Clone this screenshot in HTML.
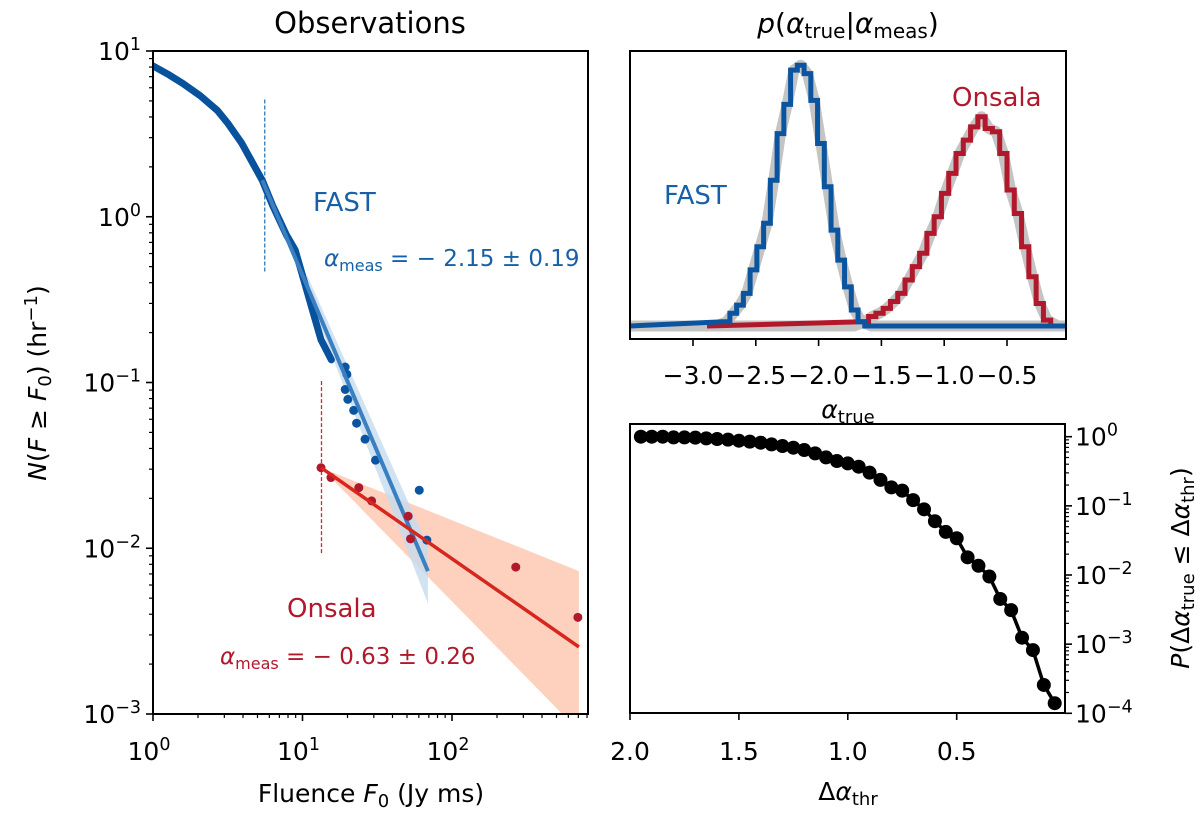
<!DOCTYPE html>
<html><head><meta charset="utf-8"><style>
html,body{margin:0;padding:0;background:#fff;}
svg{display:block;font-family:"DejaVu Sans","Liberation Sans",sans-serif;}
</style></head><body>
<svg id="fig" width="1200" height="822" viewBox="0 0 1200 822" xmlns="http://www.w3.org/2000/svg">
<g id="left"></g>
<g id="tr"></g>
<g id="br"></g>
</svg>
<script>
// ---- Left panel data ----
const fastCurveX = [1,1.28,1.58,2.07,2.70,3.16,3.92,4.59,5.38,6.31,7.82,8.93,10.2,11.9,13.3,15.6];
const fastCurveY = [8.13,7.18,6.38,5.37,4.37,3.67,2.78,2.15,1.66,1.17,0.774,0.63,0.416,0.256,0.181,0.137];
const fastDotsX = [19.3,19.8,19.3,20.1,22.0,23.0,26.2,30.8,60.4,67.9];
const fastDotsY = [0.124,0.112,0.0908,0.0791,0.0679,0.0568,0.0455,0.034,0.0224,0.0112];
const fastFitRange = [5.38,69];
const fastFitY = [1.66,0.00728];
const fastBandX = [10.7,69];
const fastBandHi = [0.447,0.0103];
const fastBandLo = [0.355,0.00465];
const onsDotsX = [13.3,15.5,23.8,29.0,50.9,52.8,267,695];
const onsDotsY = [0.0306,0.0267,0.0232,0.0193,0.0156,0.0114,0.0077,0.00383];
const onsFitX = [13.3,706];
const onsFitY = [0.0306,0.00254];
const onsBandX = [13.3,706];
const onsBandHi = [0.0306,0.00728];
const onsBandLo = [0.0306,0.00079];
const fastThr = [5.59,5.1,0.46];
const onsThr = [13.4,0.102,0.00927];
// ---- Top-right histogram data ----
const fastBinStart = -2.76, fastBinW = 0.0537;
const fastHist = [0.13,0.39,0.64,1.0,1.72,2.43,3.15,4.47,5.9,6.8,7.85,8.0,7.74,6.92,5.6,4.27,2.94,2.02,1.2,0.49,0.13];
const onsBinStart = -1.66, onsBinW = 0.058;
const onsHist = [0.13,0.29,0.39,0.54,0.75,1.0,1.41,1.82,2.23,2.84,3.35,4.07,4.68,5.29,5.7,6.11,6.42,6.06,5.96,5.29,4.17,3.45,2.43,1.51,0.69,0.18];
const trTicks = [-3.0,-2.5,-2.0,-1.5,-1.0,-0.5];
// ---- Bottom-right data ----
const thrX = [1.95,1.90,1.85,1.80,1.75,1.70,1.65,1.60,1.55,1.50,1.45,1.40,1.35,1.30,1.25,1.20,1.15,1.10,1.05,1.00,0.95,0.90,0.85,0.80,0.75,0.70,0.65,0.60,0.55,0.50,0.45,0.40,0.35,0.30,0.25,0.20,0.15,0.10,0.05];
const probY = [1,1,1,0.977,0.977,0.968,0.946,0.925,0.906,0.875,0.847,0.819,0.774,0.733,0.693,0.641,0.574,0.502,0.445,0.411,0.368,0.302,0.237,0.185,0.166,0.121,0.089,0.060,0.042,0.034,0.018,0.0136,0.0095,0.0045,0.0031,0.00124,0.00082,0.000257,0.00014];
const brXTicks = [2.0,1.5,1.0,0.5];
const brYTicks = [0,-1,-2,-3,-4];

const NS="http://www.w3.org/2000/svg";
const FS=25;
function mk(parent,tag,attrs,name,txt){
  const e=document.createElementNS(NS,tag);
  for(const k in attrs) e.setAttribute(k,attrs[k]);
  
  
  if(txt!==undefined) e.textContent=txt;
  parent.appendChild(e); return e;
}
function sup(parent,x,y,base,exp,anchor,name,fs){
  fs=fs||FS;
  const t=mk(parent,'text',{x:x,y:y,'text-anchor':anchor,'font-size':fs,fill:'#000'},name);
  const a=document.createElementNS(NS,'tspan'); a.textContent=base; t.appendChild(a);
  const b=document.createElementNS(NS,'tspan'); b.setAttribute('dy',-10); b.setAttribute('font-size',fs*0.7); b.textContent=exp; t.appendChild(b);
  return t;
}
const L10=Math.log10;
// ===== LEFT =====
const Lg=document.getElementById('left');
const LX0=153,LX1=588,LY0=51,LY1=714;
const lxs=v=>LX0+(L10(v)-0)*149.5;
const lys=v=>LY0+(1-L10(v))*165.75;
mk(Lg,'defs',{},'defs').innerHTML='<clipPath id="lc"><rect x="153" y="51" width="435" height="663"/></clipPath><clipPath id="tc"><rect x="630" y="51" width="436" height="288"/></clipPath>';
const Lp=mk(Lg,'g',{'clip-path':'url(#lc)'},'plot-area');
mk(Lp,'polygon',{points:[[lxs(onsBandX[0]),lys(onsBandHi[0])],[lxs(onsBandX[1]),lys(onsBandHi[1])],[lxs(onsBandX[1]),lys(onsBandLo[1])],[lxs(onsBandX[0]),lys(onsBandLo[0])]].map(p=>p.join(',')).join(' '),fill:'#fcc5ae',opacity:0.8},'onsala-fit-band');
mk(Lp,'polygon',{points:[[lxs(fastBandX[0]),lys(fastBandHi[0])],[lxs(fastBandX[1]),lys(fastBandHi[1])],[lxs(fastBandX[1]),lys(fastBandLo[1])],[lxs(fastBandX[0]),lys(fastBandLo[0])]].map(p=>p.join(',')).join(' '),fill:'#c6dbef',opacity:0.8},'fast-fit-band');
mk(Lp,'line',{x1:lxs(fastThr[0]),x2:lxs(fastThr[0]),y1:lys(fastThr[1]),y2:lys(fastThr[2]),stroke:'#2b7bba','stroke-width':1.3,'stroke-dasharray':'4,2'},'fast-threshold-line');
mk(Lp,'line',{x1:lxs(onsThr[0]),x2:lxs(onsThr[0]),y1:lys(onsThr[1]),y2:lys(onsThr[2]),stroke:'#d62728','stroke-width':1.3,'stroke-dasharray':'4,2'},'onsala-threshold-line');
mk(Lp,'polyline',{points:fastCurveX.map((x,i)=>lxs(x)+','+lys(fastCurveY[i])).join(' '),fill:'none',stroke:'#08519c','stroke-width':7,'stroke-linecap':'round','stroke-linejoin':'round'},'fast-cumulative-curve');
fastDotsX.forEach((x,i)=>{mk(Lp,'circle',{cx:lxs(x),cy:lys(fastDotsY[i]),r:4.5,fill:'#0b55a0'},'fast-point');});
mk(Lp,'line',{x1:lxs(fastFitRange[0]),y1:lys(fastFitY[0]),x2:lxs(fastFitRange[1]),y2:lys(fastFitY[1]),stroke:'#3a80c0','stroke-width':4},'fast-fit-line');
onsDotsX.forEach((x,i)=>{mk(Lp,'circle',{cx:lxs(x),cy:lys(onsDotsY[i]),r:4.5,fill:'#b2182b'},'onsala-point');});
mk(Lp,'line',{x1:lxs(onsFitX[0]),y1:lys(onsFitY[0]),x2:lxs(onsFitX[1]),y2:lys(onsFitY[1]),stroke:'#d7261e','stroke-width':3.5},'onsala-fit-line');
mk(Lg,'rect',{x:LX0,y:LY0,width:LX1-LX0,height:LY1-LY0,fill:'none',stroke:'#000','stroke-width':2},'left-axes-frame');
for(let d=0; d<=2; d++){
  mk(Lg,'line',{x1:lxs(10**d),x2:lxs(10**d),y1:LY1,y2:LY1+7,stroke:'#000','stroke-width':1.6},'x-tick');
  sup(Lg,lxs(10**d)-4,760,'10',String(d),'middle','x-tick-label');
  for(let m=2;m<=9;m++){const v=m*10**d; if(lxs(v)<LX1) mk(Lg,'line',{x1:lxs(v),x2:lxs(v),y1:LY1,y2:LY1+4,stroke:'#000','stroke-width':1.2},'x-minor-tick');}
}
for(let d=-3; d<=1; d++){
  mk(Lg,'line',{x1:LX0-7,x2:LX0,y1:lys(10**d),y2:lys(10**d),stroke:'#000','stroke-width':1.6},'y-tick');
  sup(Lg,LX0-12,lys(10**d)+9,'10',String(d).replace('-','−'),'end','y-tick-label');
  if(d<1) for(let m=2;m<=9;m++){const v=m*10**d; mk(Lg,'line',{x1:LX0-4,x2:LX0,y1:lys(v),y2:lys(v),stroke:'#000','stroke-width':1.2},'y-minor-tick');}
}
mk(Lg,'text',{x:370,y:33,'text-anchor':'middle','font-size':29},'left-title','Observations');
const xl=mk(Lg,'text',{x:371,y:802,'text-anchor':'middle','font-size':FS},'x-axis-title');
xl.innerHTML='Fluence <tspan font-style="italic">F</tspan><tspan font-size="18" dy="5">0</tspan><tspan dy="-5"> (Jy ms)</tspan>';
const yl=mk(Lg,'text',{x:0,y:0,'text-anchor':'middle','font-size':FS,transform:'translate(46,383) rotate(-90)'},'y-axis-title');
yl.innerHTML='<tspan font-style="italic">N</tspan>(<tspan font-style="italic">F</tspan> ≥ <tspan font-style="italic">F</tspan><tspan font-size="18" dy="5">0</tspan><tspan dy="-5">) (hr</tspan><tspan font-size="18" dy="-9">−1</tspan><tspan dy="9">)</tspan>';
mk(Lg,'text',{x:313,y:211,'font-size':26,fill:'#1760a8'},'fast-label','FAST');
const t2=mk(Lg,'text',{x:324,y:266,'font-size':23,fill:'#1760a8'},'fast-alpha-label');
t2.innerHTML='<tspan font-style="italic">α</tspan><tspan font-size="16" dy="5">meas</tspan><tspan dy="-5"> = − 2.15 ± 0.19</tspan>';
mk(Lg,'text',{x:287,y:617,'font-size':26,fill:'#b2182b'},'onsala-label','Onsala');
const t4=mk(Lg,'text',{x:220,y:664,'font-size':23,fill:'#b2182b'},'onsala-alpha-label');
t4.innerHTML='<tspan font-style="italic">α</tspan><tspan font-size="16" dy="5">meas</tspan><tspan dy="-5"> = − 0.63 ± 0.26</tspan>';

// ===== TOP RIGHT =====
const Tg=document.getElementById('tr');
const TX0=630,TX1=1066,TY0=51,TY1=339;
const txs=a=>693+(a+3.0)*125.6;
const tys=v=>326-v*32.6;
const Tp=mk(Tg,'g',{'clip-path':'url(#tc)'},'hist-area');
function stepPts(start,w,h,x0){
  const pts=[[x0,tys(0)]];
  h.forEach((v,i)=>{pts.push([txs(start+i*w),tys(v)]);pts.push([txs(start+(i+1)*w),tys(v)]);});
  pts.push([txs(start+h.length*w),tys(0)]);pts.push([TX1,tys(0)]);
  return pts.map(p=>p.join(',')).join(' ');
}
function smoothPts(start,w,h){
  const pts=[[TX0,tys(0)],[txs(start-w),tys(0)]];
  h.forEach((v,i)=>pts.push([txs(start+(i+0.5)*w),tys(v)]));
  pts.push([txs(start+(h.length+1)*w),tys(0)]);pts.push([TX1,tys(0)]);
  return pts.map(p=>p.join(',')).join(' ');
}
mk(Tp,'polyline',{points:smoothPts(onsBinStart,onsBinW,onsHist),fill:'none',stroke:'#c4c4c4','stroke-width':11,'stroke-linejoin':'round'},'onsala-smooth');
mk(Tp,'polyline',{points:smoothPts(fastBinStart,fastBinW,fastHist),fill:'none',stroke:'#c4c4c4','stroke-width':11,'stroke-linejoin':'round'},'fast-smooth');
mk(Tp,'polyline',{points:stepPts(onsBinStart,onsBinW,onsHist,707),fill:'none',stroke:'#b2182b','stroke-width':5},'onsala-histogram');
mk(Tp,'polyline',{points:stepPts(fastBinStart,fastBinW,fastHist,TX0),fill:'none',stroke:'#0b55a0','stroke-width':5},'fast-histogram');
mk(Tg,'rect',{x:TX0,y:TY0,width:TX1-TX0,height:TY1-TY0,fill:'none',stroke:'#000','stroke-width':2},'posterior-axes-frame');
trTicks.forEach(t=>{
  mk(Tg,'line',{x1:txs(t),x2:txs(t),y1:TY1,y2:TY1+7,stroke:'#000','stroke-width':1.6},'x-tick');
  mk(Tg,'text',{x:txs(t),y:384,'text-anchor':'middle','font-size':FS},'x-tick-label',t.toFixed(1).replace('-','−'));
});
const tt=mk(Tg,'text',{x:848,y:33,'text-anchor':'middle','font-size':28},'posterior-title');
tt.innerHTML='<tspan font-style="italic">p</tspan>(<tspan font-style="italic">α</tspan><tspan font-size="20" dy="5">true</tspan><tspan dy="-5">|</tspan><tspan font-style="italic">α</tspan><tspan font-size="20" dy="5">meas</tspan><tspan dy="-5">)</tspan>';
const ta=mk(Tg,'text',{x:848,y:418,'text-anchor':'middle','font-size':FS},'posterior-x-title');
ta.innerHTML='<tspan font-style="italic">α</tspan><tspan font-size="18" dy="5">true</tspan>';
mk(Tg,'text',{x:664,y:204,'font-size':26,fill:'#1760a8'},'fast-hist-label','FAST');
mk(Tg,'text',{x:952,y:106,'font-size':26,fill:'#b2182b'},'onsala-hist-label','Onsala');

// ===== BOTTOM RIGHT =====
const Bg=document.getElementById('br');
const BX0=630,BX1=1065,BY0=424,BY1=713;
const bxs=v=>630+(2.0-v)*217.8;
const bys=v=>436.7-L10(v)*69.15;
const Bp=mk(Bg,'g',{},'prob-area');
mk(Bp,'polyline',{points:thrX.map((x,i)=>bxs(x)+','+bys(probY[i])).join(' '),fill:'none',stroke:'#000','stroke-width':3.5},'prob-line');
thrX.forEach((x,i)=>{mk(Bp,'circle',{cx:bxs(x),cy:bys(probY[i]),r:7,fill:'#000'},'prob-point');});
mk(Bg,'rect',{x:BX0,y:BY0,width:BX1-BX0,height:BY1-BY0,fill:'none',stroke:'#000','stroke-width':2},'prob-axes-frame');
brXTicks.forEach(t=>{
  mk(Bg,'line',{x1:bxs(t),x2:bxs(t),y1:BY1,y2:BY1+7,stroke:'#000','stroke-width':1.6},'x-tick');
  mk(Bg,'text',{x:bxs(t),y:760,'text-anchor':'middle','font-size':FS},'x-tick-label',t.toFixed(1));
});
brYTicks.forEach(d=>{
  const y=bys(10**d);
  mk(Bg,'line',{x1:BX1,x2:BX1+7,y1:y,y2:y,stroke:'#000','stroke-width':1.6},'y-tick');
  sup(Bg,BX1+10,y+9,'10',String(d).replace('-','−'),'start','y-tick-label');
  if(d<0) for(let m=2;m<=9;m++){mk(Bg,'line',{x1:BX1,x2:BX1+4,y1:bys(m*10**d),y2:bys(m*10**d),stroke:'#000','stroke-width':1.2},'y-minor-tick');}
});
const bxl=mk(Bg,'text',{x:848,y:800,'text-anchor':'middle','font-size':FS},'prob-x-title');
bxl.innerHTML='Δ<tspan font-style="italic">α</tspan><tspan font-size="18" dy="5">thr</tspan>';
const byl=mk(Bg,'text',{x:0,y:0,'text-anchor':'middle','font-size':FS,transform:'translate(1189,568) rotate(-90)'},'prob-y-title');
byl.innerHTML='<tspan font-style="italic">P</tspan>(Δ<tspan font-style="italic">α</tspan><tspan font-size="18" dy="5">true</tspan><tspan dy="-5"> ≤ Δ</tspan><tspan font-style="italic">α</tspan><tspan font-size="18" dy="5">thr</tspan><tspan dy="-5">)</tspan>';
</script>
</body></html>
